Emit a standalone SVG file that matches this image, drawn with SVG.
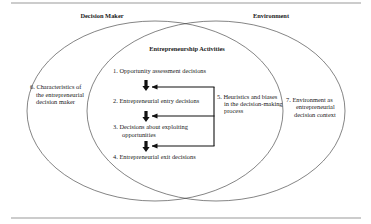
<svg xmlns="http://www.w3.org/2000/svg" width="371" height="224" viewBox="0 0 371 224">
<defs>
<style>
text{font-family:"Liberation Serif","Times New Roman",serif;font-size:6.4px;fill:#222}
.b{font-weight:bold;font-size:6.4px}
.rule{stroke:#bbb;stroke-width:1.4}
.ell{fill:none;stroke:#333;stroke-width:0.6}
.fb{fill:none;stroke:#111;stroke-width:1.1}
.down{fill:#111}
</style>
<marker id="ah" viewBox="0 0 6 6" refX="5.5" refY="3" markerWidth="6" markerHeight="6" markerUnits="userSpaceOnUse" orient="auto">
<path d="M0,0.6 L6,3 L0,5.4 z" fill="#111"/>
</marker>
<path id="dn" class="down" d="M-1.6,0 H1.6 V6 H3.6 L0,11 L-3.6,6 H-1.6 z"/>
</defs>
<line class="rule" x1="11" y1="3" x2="361" y2="3"/>
<line class="rule" x1="11" y1="218" x2="361" y2="218"/>
<g id="decision-maker">
<ellipse class="ell" cx="155" cy="111" rx="128" ry="90"/>
<text class="b" x="102" y="17.5" text-anchor="middle">Decision Maker</text>
</g>
<g id="environment">
<ellipse class="ell" cx="216" cy="111" rx="129" ry="90"/>
<text class="b" x="271" y="17.5" text-anchor="middle">Environment</text>
</g>
<g id="activities">
<text class="b" x="187" y="51" text-anchor="middle">Entrepreneurship Activities</text>
</g>
<g id="n1"><text x="113" y="73">1. Opportunity assessment decisions</text></g>
<g id="n2"><text x="113" y="103">2. Entrepreneurial entry decisions</text></g>
<g id="n3"><text x="113" y="129">3.  Decisions about exploiting</text><text x="122" y="137">opportunities</text></g>
<g id="n4"><text x="113" y="159">4. Entrepreneurial exit decisions</text></g>
<g id="n5"><text x="217" y="99">5. Heuristics and biases</text><text x="224" y="106">in the decision-making</text><text x="224" y="113">process</text></g>
<g id="n6"><text x="30" y="89">6. Characteristics of</text><text x="36" y="97">the entrepreneurial</text><text x="36" y="104">decision maker</text></g>
<g id="n7"><text x="286" y="101.5">7. Environment as</text><text x="296" y="109">entrepreneurial</text><text x="294" y="116.5">decision context</text></g>
<g id="connectors">
<use href="#dn" x="146" y="80"/>
<use href="#dn" x="146" y="111"/>
<use href="#dn" x="146" y="141"/>
<path class="fb" d="M214,87 V146"/>
<line class="fb" x1="214.5" y1="87" x2="152" y2="87" marker-end="url(#ah)"/>
<line class="fb" x1="214.5" y1="116" x2="152" y2="116" marker-end="url(#ah)"/>
<line class="fb" x1="214.5" y1="146" x2="152" y2="146" marker-end="url(#ah)"/>
</g>
</svg>
